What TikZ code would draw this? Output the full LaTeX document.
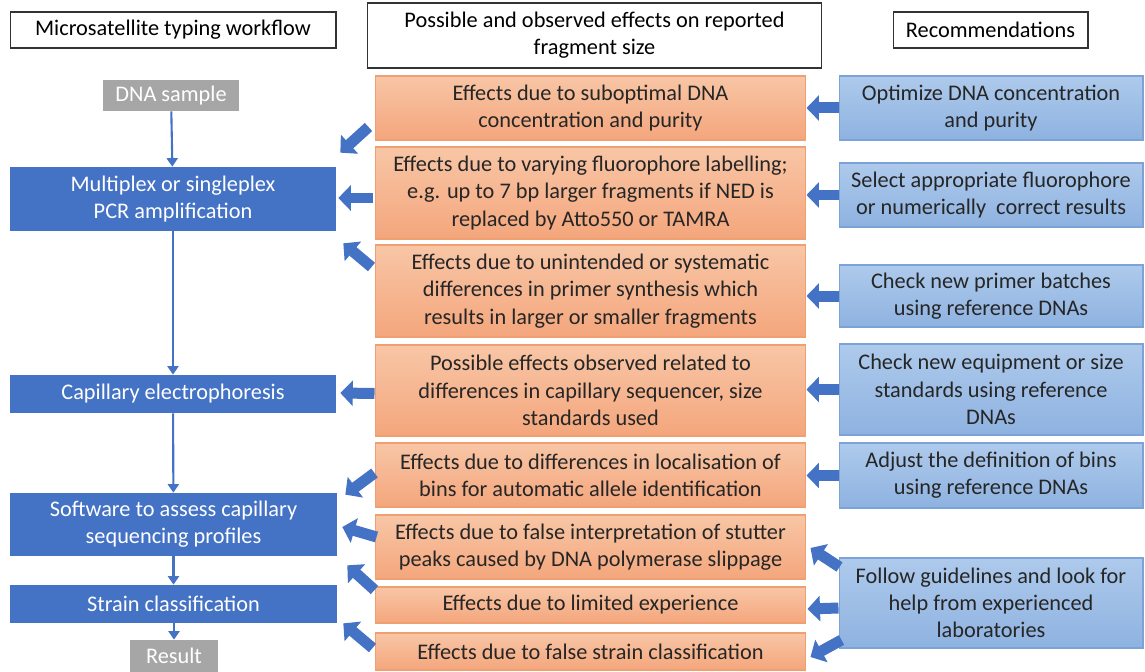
\documentclass[tikz,border=0pt]{standalone}
\usepackage{fontspec}
\setmainfont{Carlito}
\usetikzlibrary{arrows.meta}
\definecolor{wfblue}{HTML}{4472C4}
\definecolor{wfgray}{HTML}{A6A6A6}
\definecolor{efftop}{HTML}{F8C6A6}
\definecolor{effbot}{HTML}{F4A67C}
\definecolor{effline}{HTML}{F0A070}
\definecolor{advtop}{HTML}{AECAEC}
\definecolor{advbot}{HTML}{8EB2E0}
\definecolor{advline}{HTML}{7BA3D8}

\begin{document}
\begin{tikzpicture}[x=0.02cm,y=-0.02cm,
head/.style={draw=black!80,line width=0.6pt,fill=white},
flow/.style={fill=wfblue,text=white},
ends/.style={fill=wfgray,text=white},
effect/.style={draw=effline,line width=0.6pt,top color=efftop,bottom color=effbot,text=black!85},
advice/.style={draw=advline,line width=0.6pt,top color=advtop,bottom color=advbot,text=black!85},
flowline/.style={wfblue,line width=1.2pt,-{Triangle[width=0.22cm,length=0.17cm]}},
blk/.style={wfblue,line width=0.22cm,-{Triangle[width=0.5cm,length=0.25cm]}}]
\tikzstyle{every node}=[inner sep=0pt,align=center,font=\fontsize{12.7}{15.5}\selectfont]
\useasboundingbox (0,0) rectangle (1145,672);

% column headings
\node (HeadFlow) [head,minimum width=6.52cm,minimum height=0.72cm] at (173,30) {Microsatellite typing workflow};
\node (HeadEff) [head,minimum width=9.1cm,minimum height=1.3cm] at (594.5,35.5) {Possible and observed effects on reported\\fragment size};
\node (HeadRec) [head,minimum width=3.9cm,minimum height=0.72cm] at (990.5,30) {Recommendations};

% workflow
\node (Dna) [ends,minimum width=2.72cm,minimum height=0.62cm] at (171,95.5) {DNA sample};
\node (Pcr) [flow,minimum width=6.52cm,minimum height=1.28cm] at (173,199) {Multiplex or singleplex\\PCR amplification};
\node (Ce) [flow,minimum width=6.52cm,minimum height=0.76cm] at (173,394) {Capillary electrophoresis};
\node (Soft) [flow,minimum width=6.54cm,minimum height=1.26cm] at (173.5,524.5) {Software to assess capillary\\sequencing profiles};
\node (Strain) [flow,minimum width=6.54cm,minimum height=0.76cm] at (173.5,604) {Strain classification};
\node (Res) [ends,minimum width=1.76cm,minimum height=0.64cm] at (174,656) {Result};

% effects
\node (E1) [effect,minimum width=8.62cm,minimum height=1.28cm] at (590.5,108) {Effects due to suboptimal DNA\\concentration and purity};
\node (E2) [effect,minimum width=8.62cm,minimum height=1.84cm] at (590.5,193) {Effects due to varying fluorophore labelling;\\e.g. up to 7 bp larger fragments if NED is\\replaced by Atto550 or TAMRA};
\node (E3) [effect,minimum width=8.62cm,minimum height=1.84cm] at (590.5,291) {Effects due to unintended or systematic\\differences in primer synthesis which\\results in larger or smaller fragments};
\node (E4) [effect,minimum width=8.62cm,minimum height=1.82cm] at (590.5,390.5) {Possible effects observed related to\\differences in capillary sequencer, size\\standards used};
\node (E5) [effect,minimum width=8.62cm,minimum height=1.28cm] at (590.5,475) {Effects due to differences in localisation of\\bins for automatic allele identification};
\node (E6) [effect,minimum width=8.62cm,minimum height=1.28cm] at (590.5,547) {Effects due to false interpretation of stutter\\peaks caused by DNA polymerase slippage};
\node (E7) [effect,minimum width=8.62cm,minimum height=0.72cm] at (590.5,605) {Effects due to limited experience};
\node (E8) [effect,minimum width=8.62cm,minimum height=0.74cm] at (590.5,651.5) {Effects due to false strain classification};

% recommendations
\node (R1) [advice,minimum width=6.08cm,minimum height=1.28cm] at (991,108) {Optimize DNA concentration\\and purity};
\node (R2) [advice,minimum width=6.08cm,minimum height=1.28cm] at (991,195) {Select appropriate fluorophore\\or numerically\ \ correct results};
\node (R3) [advice,minimum width=6.08cm,minimum height=1.24cm] at (991,296) {Check new primer batches\\using reference DNAs};
\node (R4) [advice,minimum width=6.08cm,minimum height=1.82cm] at (991,389.5) {Check new equipment or size\\standards using reference\\DNAs};
\node (R5) [advice,minimum width=6.08cm,minimum height=1.3cm] at (991,475.5) {Adjust the definition of bins\\using reference DNAs};
\node (R6) [advice,minimum width=6.08cm,minimum height=1.8cm] at (991,603) {Follow guidelines and look for\\help from experienced\\laboratories};

\draw[flowline] (Dna) -- (Pcr);
\draw[flowline] (Pcr) -- (Ce);
\draw[flowline] (Ce) -- (Soft);
\draw[flowline] (Soft) -- (Strain);
\draw[flowline] (Strain.south -| Res) -- (Res);

% effects onto the workflow
\draw[blk] ([shift={(-6,19)}]E1.west) -- ([shift={(4,-14)}]Pcr.north east);
\draw[blk] ([shift={(-2,5)}]E2.west) -- ([shift={(2,-1)}]Pcr.east);
\draw[blk] ([shift={(-3,-24)}]E3.west) -- ([shift={(7,12)}]Pcr.south east);
\draw[blk] ([shift={(0,3)}]E4.west) -- ([shift={(4,-1)}]Ce.east);
\draw[blk] ([shift={(0,-2)}]E5.west) -- ([shift={(8,2)}]Soft.north east);
\draw[blk] ([shift={(2,-10)}]E6.west) -- ([shift={(5,2.5)}]Soft.east);
\draw[blk] ([shift={(0,-15)}]E7.west) -- ([shift={(10,9)}]Soft.south east);
\draw[blk] ([shift={(-2,-3.5)}]E8.west) -- ([shift={(6,0)}]Strain.south east);

% recommendations onto the effects
\draw[blk] (R1.west) -- (E1.east);
\draw[blk] (R2.west) -- (E2.east |- R2.west);
\draw[blk] (R3.west) -- (E3.east |- R3.west);
\draw[blk] (R4.west) -- (E4.east |- R4.west);
\draw[blk] (R5.west) -- (E5.east |- R5.west);
\draw[blk] ([shift={(1,-36)}]R6.west) -- ([shift={(4,1)}]E6.east);
\draw[blk] ([shift={(0,5)}]R6.west) -- ([shift={(1,4)}]E7.east);
\draw[blk] ([shift={(3,37)}]R6.west) -- ([shift={(4,5.5)}]E8.east);
\end{tikzpicture}
\end{document}
